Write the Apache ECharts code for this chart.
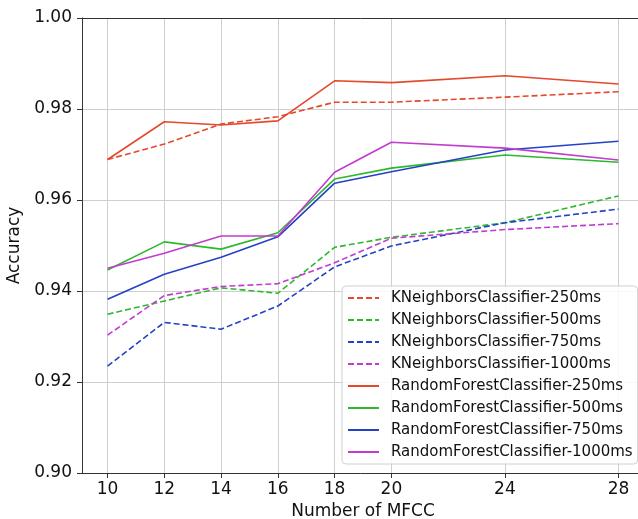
<!DOCTYPE html>
<html>
<head>
	<meta charset="utf-8">
	<title>accuracy vs mfcc</title>
	<style>
		body { margin: 0; padding: 0; background: #fff; }
		#main { width: 638px; height: 519px; }
	</style>
</head>
<body>
	<div id="main"></div>
	<script src="https://cdn.jsdelivr.net/npm/echarts@6/dist/echarts.min.js"></script>
	<script type="text/javascript">
		// x values (number of MFCC)
		var mfcc = [10, 12, 14, 16, 18, 20, 24, 28];
		var xTicks = [10, 12, 14, 16, 18, 20, 24, 28];

		// KNeighbors, dashed
		var knn250 = [0.9689, 0.9723, 0.9767, 0.9783, 0.9815, 0.9815, 0.9826, 0.9838];
		var knn500 = [0.9349, 0.9378, 0.9407, 0.9395, 0.9496, 0.9518, 0.9550, 0.9609];
		var knn750 = [0.9235, 0.9331, 0.9316, 0.9367, 0.9453, 0.9499, 0.9550, 0.9580];
		var knn1000 = [0.9303, 0.9390, 0.9410, 0.9416, 0.9462, 0.9516, 0.9535, 0.9548];
		// RandomForest, solid
		var rf250 = [0.9689, 0.9772, 0.9765, 0.9774, 0.9862, 0.9858, 0.9873, 0.9855];
		var rf500 = [0.9446, 0.9508, 0.9492, 0.9528, 0.9646, 0.9670, 0.9699, 0.9683];
		var rf750 = [0.9382, 0.9437, 0.9474, 0.9519, 0.9637, 0.9662, 0.9710, 0.9729];
		var rf1000 = [0.9450, 0.9483, 0.9521, 0.9521, 0.9661, 0.9727, 0.9714, 0.9688];

		var red = '#e5482a', green = '#2eb82e', blue = '#2542c4', purple = '#c23bd0';

		function pairs(ys) {
			var out = [];
			for (var i = 0; i < mfcc.length; i++) {
				out.push([mfcc[i], ys[i]]);
			}
			return out;
		}

		function mkSeries(name, ys, color, dashed) {
			return {
				name: name,
				type: 'line',
				data: pairs(ys),
				symbol: 'none',
				showSymbol: false,
				color: color,
				lineStyle: { width: 1.6, color: color, type: dashed ? [6, 3] : 'solid' },
				animation: false
			};
		}

		var series = [
			mkSeries('KNeighborsClassifier-250ms', knn250, red, true),
			mkSeries('KNeighborsClassifier-500ms', knn500, green, true),
			mkSeries('KNeighborsClassifier-750ms', knn750, blue, true),
			mkSeries('KNeighborsClassifier-1000ms', knn1000, purple, true),
			mkSeries('RandomForestClassifier-250ms', rf250, red, false),
			mkSeries('RandomForestClassifier-500ms', rf500, green, false),
			mkSeries('RandomForestClassifier-750ms', rf750, blue, false),
			mkSeries('RandomForestClassifier-1000ms', rf1000, purple, false)
		];

		var myChart = echarts.init(document.getElementById('main'));
		var font = 'DejaVu Sans';

		myChart.setOption({
			animation: false,
			grid: { left: 82, top: 18, right: -6, bottom: 46, outerBoundsMode: 'none', containLabel: false },
			legend: {
				orient: 'vertical',
				left: 342,
				top: 286,
				itemWidth: 31,
				itemHeight: 14,
				itemGap: 6,
				padding: [4, 5, 4, 5],
				backgroundColor: 'rgba(255,255,255,0.85)',
				borderColor: '#d0d0d0',
				borderWidth: 1,
				borderRadius: 4,
				itemStyle: { opacity: 0 },
				textStyle: { fontFamily: font, fontSize: 15, color: '#111', lineHeight: 16, padding: [0, 0, 0, 7] },
				data: series.map(function (s) { return s.name; })
			},
			xAxis: [
				{
					type: 'value',
					min: 9.1,
					max: 28.9,
					name: 'Number of MFCC',
					nameLocation: 'middle',
					nameGap: 29,
					nameTextStyle: { fontFamily: font, fontSize: 17, color: '#111' },
					axisLine: { show: true, lineStyle: { color: '#333', width: 1 } },
					axisTick: { show: true, length: 5, customValues: xTicks, lineStyle: { color: '#333' } },
					axisLabel: { customValues: xTicks, margin: 8, fontFamily: font, fontSize: 17, color: '#111' },
					splitLine: { show: true, lineStyle: { color: '#cfcfcf', width: 1 } }
				},
				{
					type: 'value',
					position: 'top',
					min: 9.1,
					max: 28.9,
					axisLine: { show: true, lineStyle: { color: '#333', width: 1 } },
					axisTick: { show: false },
					axisLabel: { show: false },
					splitLine: { show: false }
				}
			],
			yAxis: {
				type: 'value',
				min: 0.9,
				max: 1.0,
				interval: 0.02,
				name: 'Accuracy',
				nameLocation: 'middle',
				nameGap: 55,
				nameTextStyle: { fontFamily: font, fontSize: 17, color: '#111' },
				axisLine: { show: true, lineStyle: { color: '#333', width: 1 } },
				axisTick: { show: true, length: 5, lineStyle: { color: '#333' } },
				axisLabel: {
					margin: 10,
					fontFamily: font,
					fontSize: 17,
					color: '#111',
					formatter: function (v) { return v.toFixed(2); }
				},
				splitLine: { show: true, lineStyle: { color: '#cfcfcf', width: 1 } }
			},
			series: series
		});
	</script>
</body>
</html>
